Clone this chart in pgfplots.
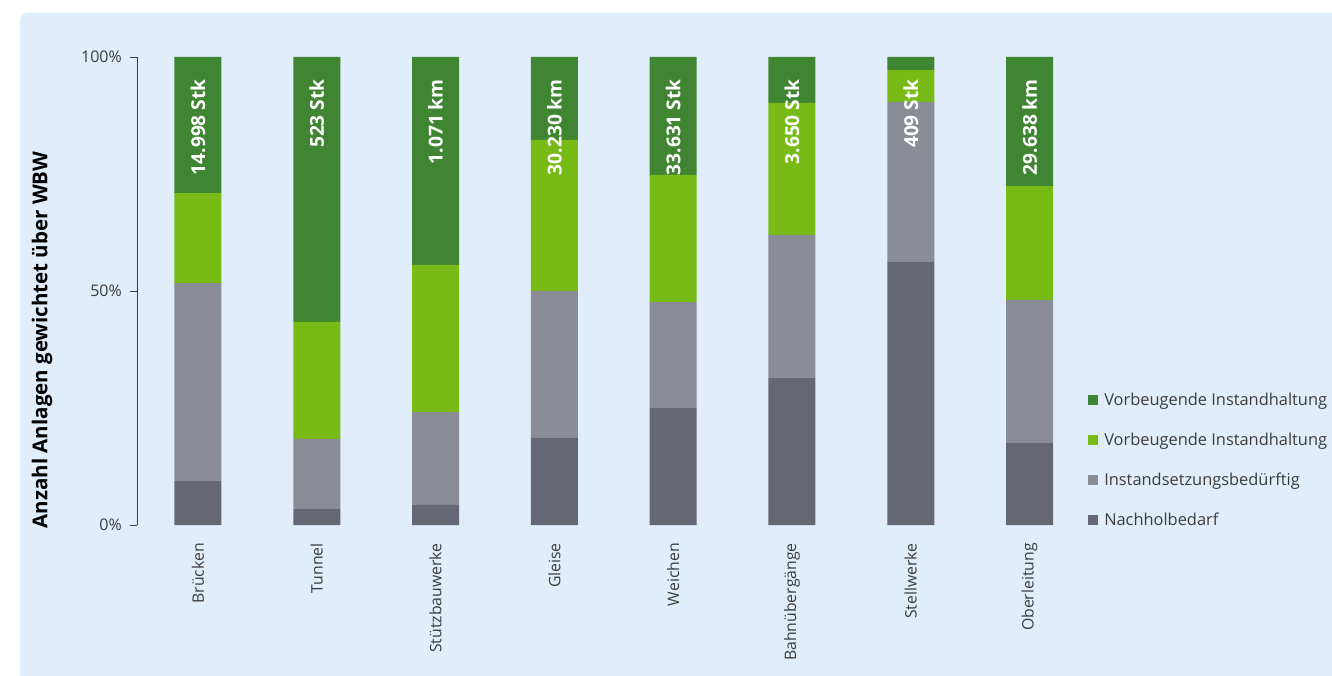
\documentclass[border=0pt]{standalone}
\usepackage{pgfplots}
\pgfplotsset{compat=1.18}
\usepackage{fontspec}
\setmainfont{Open Sans}
\definecolor{dgreen}{RGB}{64,133,50}
\definecolor{lgreen}{RGB}{120,187,22}
\definecolor{mgray}{RGB}{138,141,150}
\definecolor{dgray}{RGB}{101,104,115}
\definecolor{panel}{RGB}{224,237,250}
\definecolor{txt}{RGB}{60,60,60}
\tikzset{barlbl/.style={rotate=90, anchor=east, inner sep=1pt, text=white, font=\fontsize{19.2}{22}\selectfont\bfseries}}
\begin{document}
\begin{tikzpicture}
\path[use as bounding box, fill=white] (0pt,0pt) rectangle (1332pt,675pt);
\begin{scope}
\clip (0pt,0pt) rectangle (1332pt,675pt);
\fill[panel, rounded corners=8pt] (20pt,-20pt) rectangle (1360pt,662pt);
\end{scope}
\node[rotate=90, font=\fontsize{20.5}{24}\selectfont\bfseries, text=black] at (42pt,335pt) {Anzahl Anlagen gewichtet über WBW};
\begin{axis}[
  at={(137pt,150pt)}, anchor=south west,
  scale only axis, width=952pt, height=468pt,
  xmin=-0.513, xmax=7.5, ymin=0, ymax=100,
  ybar stacked, bar width=47pt,
  axis y line*=left, axis x line*=bottom,
  x axis line style={draw=none},
  y axis line style={draw=txt, line width=0.8pt},
  xtick={0,...,7},
  xticklabels={Brücken,Tunnel,Stützbauwerke,Gleise,Weichen,Bahnübergänge,Stellwerke,Oberleitung},
  xtick style={draw=none},
  xticklabel style={rotate=90, anchor=east, inner sep=0pt, font=\fontsize{15.8}{18}\selectfont, text=txt},
  xticklabel shift=11pt,
  ytick={0,50,100},
  yticklabels={0\%,50\%,100\%},
  ytick style={draw=txt, line width=0.8pt},
  tick align=outside, major tick length=7pt,
  yticklabel style={font=\fontsize{16}{18}\selectfont, text=txt, inner sep=0pt},
  yticklabel shift=8pt,
  legend cell align=left,
  reverse legend,
  legend style={at={(0.999,0.286)}, anchor=north west, draw=none, fill=none,
    font=\fontsize{16.4}{19}\selectfont, text=txt, row sep=22pt, inner sep=0pt},
  legend image code/.code={\fill[#1] (0pt,-5pt) rectangle (10pt,5pt); \path (14pt,0pt);},
  every axis plot/.append style={draw=none},
  after end axis/.code={
    \node[barlbl] at (axis cs:0,95.5) {14.998 Stk};
    \node[barlbl] at (axis cs:1,95.5) {523 Stk};
    \node[barlbl] at (axis cs:2,95.5) {1.071 km};
    \node[barlbl] at (axis cs:3,95.5) {30.230 km};
    \node[barlbl] at (axis cs:4,95.5) {33.631 Stk};
    \node[barlbl] at (axis cs:5,95.5) {3.650 Stk};
    \node[barlbl] at (axis cs:6,95.5) {409 Stk};
    \node[barlbl] at (axis cs:7,95.5) {29.638 km};
  },
]
\addplot[fill=dgray] coordinates {(0,9.4) (1,3.4) (2,4.3) (3,18.6) (4,25.0) (5,31.4) (6,56.2) (7,17.5)};
\addplot[fill=mgray] coordinates {(0,42.3) (1,15.0) (2,19.8) (3,31.4) (4,22.6) (5,30.6) (6,34.2) (7,30.6)};
\addplot[fill=lgreen] coordinates {(0,19.2) (1,25.0) (2,31.5) (3,32.3) (4,27.2) (5,28.2) (6,6.8) (7,24.3)};
\addplot[fill=dgreen] coordinates {(0,29.1) (1,56.6) (2,44.4) (3,17.7) (4,25.2) (5,9.8) (6,2.8) (7,27.6)};
\legend{Nachholbedarf,Instandsetzungsbedürftig,Vorbeugende Instandhaltung,Vorbeugende Instandhaltung}
\end{axis}
\end{tikzpicture}
\end{document}
